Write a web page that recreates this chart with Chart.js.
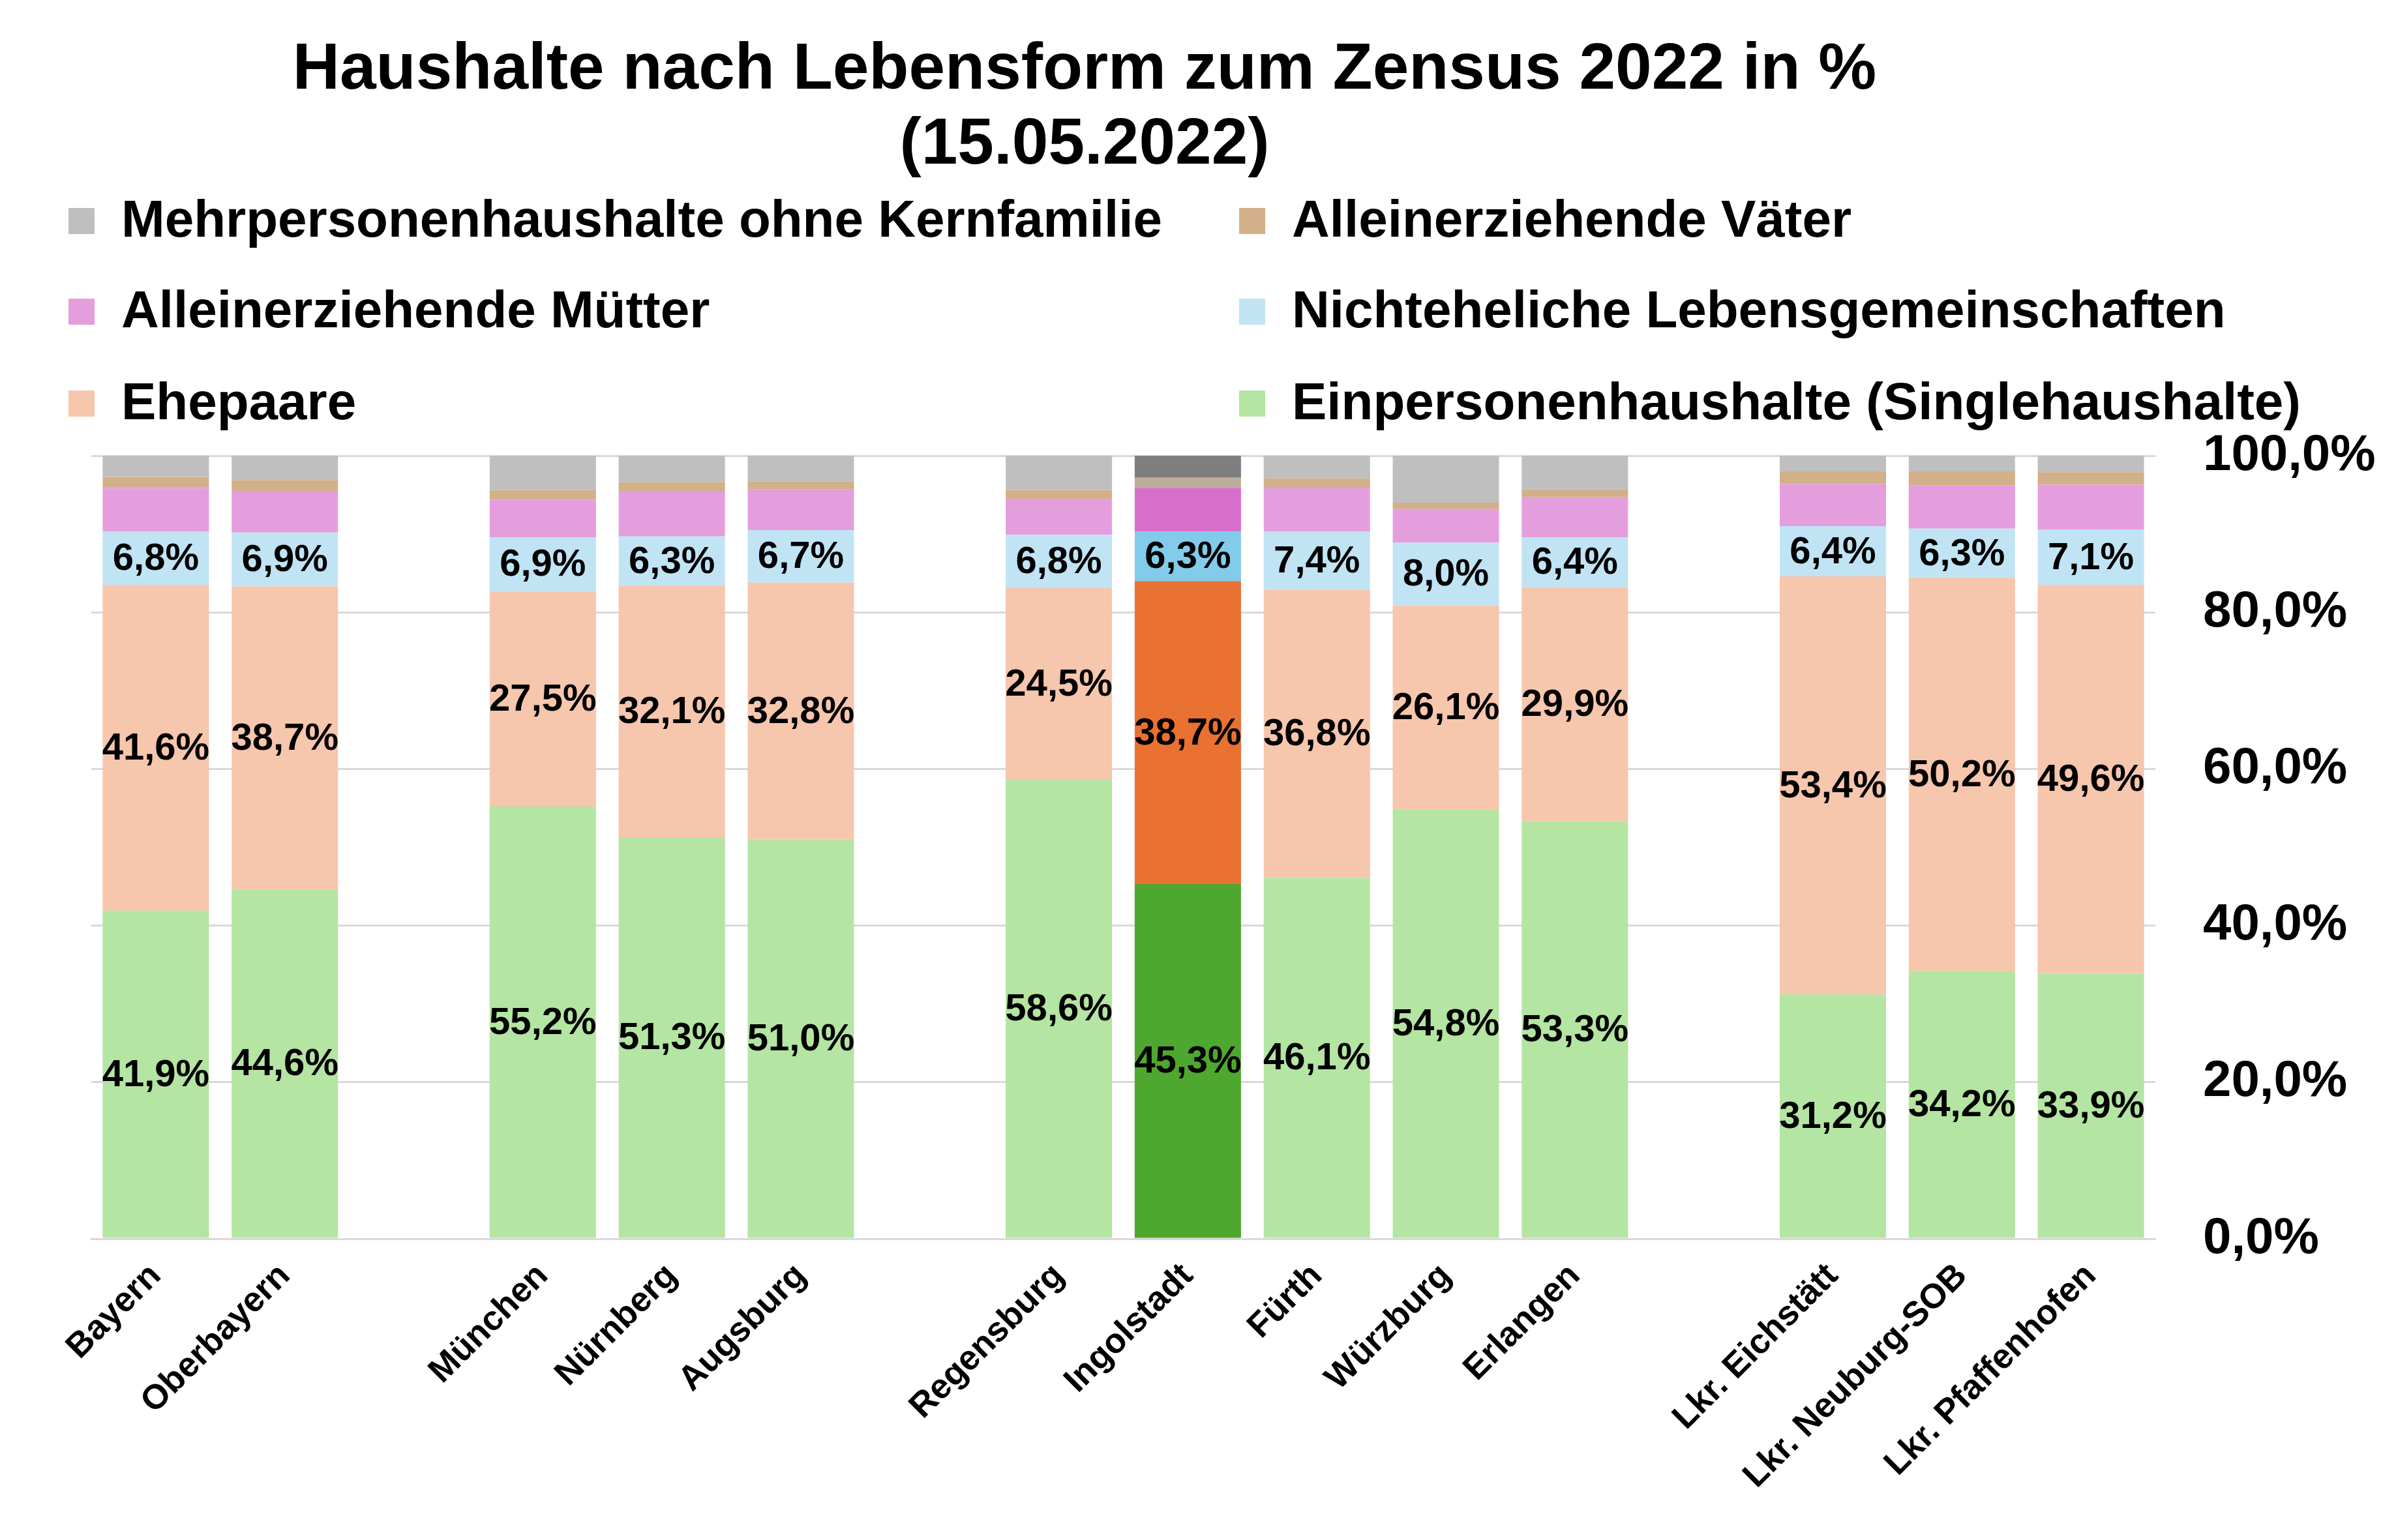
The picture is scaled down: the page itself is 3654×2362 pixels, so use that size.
<!DOCTYPE html>
<html lang="de">

<head>
  <meta charset="UTF-8">
  <title>Haushalte nach Lebensform zum Zensus 2022</title>
  <script src="https://cdn.jsdelivr.net/npm/chart.js"></script>
  <style>
    body {
      margin: 0;
      background: #fff;
      font-family: "Liberation Sans", Arial, sans-serif;
    }

    #wrap {
      position: relative;
      width: 3654px;
      height: 2362px;
    }

    #title {
      position: absolute;
      left: 0;
      top: 44px;
      width: 3326px;
      text-align: center;
      font-weight: bold;
      font-size: 100px;
      line-height: 115px;
    }

    .legend-item {
      position: absolute;
      font-weight: bold;
      font-size: 80px;
      line-height: 80px;
      padding-left: 81px;
      white-space: nowrap;
    }

    .legend-box {
      position: absolute;
      left: 0;
      top: 23px;
      width: 40px;
      height: 40px;
    }

    canvas {
      position: absolute;
      left: 0;
      top: 0;
    }
  </style>
</head>

<body>
  <div id="wrap">
    <canvas id="haushalteChart" width="3654" height="2362"></canvas>
    <div id="title">Haushalte nach Lebensform zum Zensus 2022 in %<br>(15.05.2022)</div>
    <div id="legend"></div>
  </div>

  <script>
    // Kategorien ('' = Lücke zwischen den Gruppen)
    var labels = ['Bayern', 'Oberbayern', '', 'München', 'Nürnberg', 'Augsburg', '',
      'Regensburg', 'Ingolstadt', 'Fürth', 'Würzburg', 'Erlangen', '',
      'Lkr. Eichstätt', 'Lkr. Neuburg-SOB', 'Lkr. Pfaffenhofen'];

    var einpersonen = [41.9, 44.6, null, 55.2, 51.3, 51.0, null, 58.6, 45.3, 46.1, 54.8, 53.3, null, 31.2, 34.2, 33.9];
    var ehepaare = [41.6, 38.7, null, 27.5, 32.1, 32.8, null, 24.5, 38.7, 36.8, 26.1, 29.9, null, 53.4, 50.2, 49.6];
    var nichtehelich = [6.8, 6.9, null, 6.9, 6.3, 6.7, null, 6.8, 6.3, 7.4, 8.0, 6.4, null, 6.4, 6.3, 7.1];
    var muetter = [5.6, 5.3, null, 4.8, 5.8, 5.2, null, 4.6, 5.6, 5.7, 4.3, 5.1, null, 5.4, 5.5, 5.7];
    var vaeter = [1.4, 1.4, null, 1.2, 1.1, 1.0, null, 1.1, 1.3, 1.1, 0.8, 1.0, null, 1.6, 1.8, 1.6];
    var mehrpersonen = [2.7, 3.1, null, 4.4, 3.4, 3.3, null, 4.4, 2.8, 2.9, 6.0, 4.3, null, 2.0, 2.0, 2.1];

    var yTicks = [0, 20, 40, 60, 80, 100];
    var highlight = 'Ingolstadt';

    function colors(normal, strong) {
      return labels.map(function (l) { return l === highlight ? strong : normal; });
    }

    function fmt(v) {
      return v.toFixed(1).replace('.', ',') + '%';
    }

    var datasets = [
      { label: 'Einpersonenhaushalte (Singlehaushalte)', data: einpersonen, backgroundColor: colors('#B4E5A2', '#4EA72E'), showValue: true },
      { label: 'Ehepaare', data: ehepaare, backgroundColor: colors('#F6C6AD', '#E97132'), showValue: true },
      { label: 'Nichteheliche Lebensgemeinschaften', data: nichtehelich, backgroundColor: colors('#C1E4F5', '#83CBEB'), showValue: true },
      { label: 'Alleinerziehende Mütter', data: muetter, backgroundColor: colors('#E59EDD', '#D86ECC') },
      { label: 'Alleinerziehende Väter', data: vaeter, backgroundColor: colors('#D1B08A', '#BCAE9B') },
      { label: 'Mehrpersonenhaushalte ohne Kernfamilie', data: mehrpersonen, backgroundColor: colors('#BFBFBF', '#7F7F7F') }
    ];

    // Werte in die Balken schreiben
    var valueLabels = {
      id: 'valueLabels',
      afterDatasetsDraw: function (chart) {
        var ctx = chart.ctx;
        ctx.save();
        ctx.font = 'bold 58px "Liberation Sans", Arial, sans-serif';
        ctx.fillStyle = '#000';
        ctx.textAlign = 'center';
        ctx.textBaseline = 'middle';
        chart.data.datasets.forEach(function (ds, i) {
          if (!ds.showValue) return;
          chart.getDatasetMeta(i).data.forEach(function (bar, j) {
            var v = ds.data[j];
            if (v == null) return;
            ctx.fillText(fmt(v), bar.x, (bar.y + bar.base) / 2 + 2);
          });
        });
        ctx.restore();
      }
    };

    var ctx = document.getElementById('haushalteChart').getContext('2d');
    var myChart = new Chart(ctx, {
      type: 'bar',
      data: { labels: labels, datasets: datasets },
      options: {
        responsive: false,
        animation: false,
        devicePixelRatio: 1,
        layout: { padding: { top: 699, left: 140, right: 0, bottom: 0 } },
        datasets: {
          bar: { barPercentage: 0.824, categoryPercentage: 1.0, borderWidth: 0 }
        },
        plugins: {
          legend: { display: false },
          title: { display: false },
          tooltip: { enabled: false }
        },
        scales: {
          x: {
            stacked: true,
            grid: { display: false },
            border: { display: true, color: '#D9D9D9', width: 3 },
            afterFit: function (s) { s.height = 2362 - 1900; },
            ticks: {
              autoSkip: false,
              maxRotation: 45,
              minRotation: 45,
              padding: 18,
              color: '#000',
              font: { family: '"Liberation Sans", Arial, sans-serif', size: 53, weight: 'bold' }
            }
          },
          y: {
            stacked: true,
            position: 'right',
            min: 0,
            max: 100,
            afterFit: function (s) { s.width = 3654 - 3305; },
            afterBuildTicks: function (s) {
              s.ticks = yTicks.map(function (v) { return { value: v }; });
            },
            grid: { color: '#D9D9D9', lineWidth: 3, drawTicks: false },
            border: { display: false },
            ticks: {
              padding: 73,
              color: '#000',
              font: { family: '"Liberation Sans", Arial, sans-serif', size: 78, weight: 'bold' },
              callback: function (v) { return fmt(v); }
            }
          }
        }
      },
      plugins: [valueLabels]
    });

    // Legende zweispaltig, in umgekehrter Reihenfolge der Stapel
    var legend = document.getElementById('legend');
    var colX = [105, 1900];
    var rowTop = [296, 435, 576];
    datasets.slice().reverse().forEach(function (ds, k) {
      var item = document.createElement('div');
      item.className = 'legend-item';
      item.style.left = colX[k % 2] + 'px';
      item.style.top = rowTop[Math.floor(k / 2)] + 'px';
      var box = document.createElement('span');
      box.className = 'legend-box';
      box.style.background = ds.backgroundColor[0];
      item.appendChild(box);
      item.appendChild(document.createTextNode(ds.label));
      legend.appendChild(item);
    });
  </script>
</body>

</html>
